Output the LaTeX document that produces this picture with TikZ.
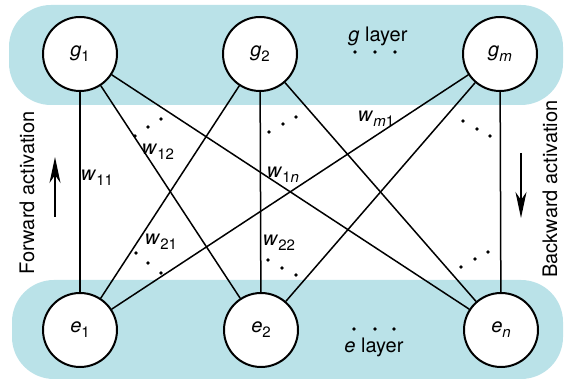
\documentclass[tikz,border=0pt]{standalone}
\usepackage{fontspec}
\setmainfont{TeX Gyre Heros}
\usetikzlibrary{arrows.meta}
\definecolor{bandcol}{RGB}{186,226,232}
\newcommand\wsub[2]{\textit{#1}\raisebox{-5pt}{\fontsize{15}{15}\selectfont #2}}
\begin{document}
\begin{tikzpicture}[x=1pt,y=-1pt,
  neuron/.style={circle,draw,line width=2pt,fill=white,minimum size=74pt,inner sep=0pt,font=\fontsize{20}{22}\selectfont},
  link/.style={line width=1.5pt},
  wlab/.style={font=\fontsize{20}{22}\selectfont,inner sep=0pt},
  layerlab/.style={font=\fontsize{20}{22}\selectfont,inner sep=0pt},
  side/.style={font=\fontsize{20}{22}\selectfont,rotate=90,inner sep=0pt},
  flow/.style={line width=1.6pt,-{Stealth[length=26pt,width=11pt,inset=8pt]}},
  band/.style={fill=bandcol,rounded corners=42pt}
]
\useasboundingbox (0,0) rectangle (566,382);
\fill[white] (0,0) rectangle (566,382);
% layer bands
\path[band] (9,5) rectangle (563,105);
\path[band] (12,280) rectangle (563,379);
% neurons
\node[neuron] (g1) at (80,54) {\wsub{g}{1}};
\node[neuron] (g2) at (260,54) {\wsub{g}{2}};
\node[neuron] (gm) at (500,54) {\wsub{g}{\textit{m}}};
\node[neuron] (e1) at (80,330) {\wsub{e}{1}};
\node[neuron] (e2) at (261,330) {\wsub{e}{2}};
\node[neuron] (en) at (501,330) {\wsub{e}{\textit{n}}};
% connections
\foreach \g in {g1,g2,gm}{
  \foreach \e in {e1,e2,en}{
    \draw[link] (\g) -- (\e);
  }
}
% weight labels
\node[wlab] (w11) at (97,178) {\wsub{w}{11}};
\node[wlab] (w12) at (158,152) {\wsub{w}{12}};
\node[wlab] (w21) at (161,242) {\wsub{w}{21}};
\node[wlab] (w1n) at (283,175) {\wsub{w}{1\textit{n}}};
\node[wlab] (w22) at (279,243) {\wsub{w}{22}};
\node[wlab] (wm1) at (376,119) {\wsub{w}{\textit{m}1}};
% layer labels
\node[layerlab] (glayer) at (378,36) {\textit{g} layer};
\node[layerlab] (elayer) at (374,347) {\textit{e} layer};
% ellipsis dots
\foreach \p in {(355,52),(375,52),(395,52),
                (354,329),(375,329),(394,329),
                (135,136),(148,127),(161,119),
                (269,132),(283,124),(296,117),
                (463,121),(477,129),(490,136),
                (136,253),(148,263),(161,273),
                (268,260),(282,268),(296,275),
                (461,267),(475,259),(488,252)}{
  \fill \p circle (1.8);
}
% side texts and arrows
\node[side] (fwd) at (27,193) {Forward activation};
\node[side] (bwd) at (550,189) {Backward activation};
\coordinate (fa0) at (55,217);
\coordinate (fa1) at (55,157);
\coordinate (ba0) at (521,153);
\coordinate (ba1) at (521,218);
\draw[flow] (fa0) -- (fa1);
\draw[flow] (ba0) -- (ba1);
\end{tikzpicture}
\end{document}
